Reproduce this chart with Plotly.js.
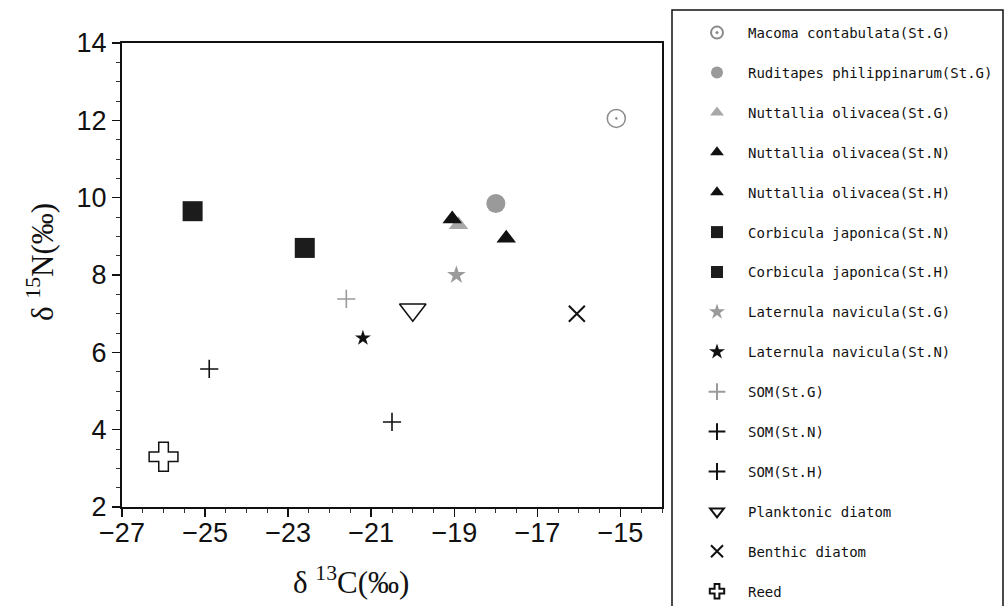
<!DOCTYPE html>
<html>
<head>
<meta charset="utf-8">
<script src="https://cdn.plot.ly/plotly-3.0.1.min.js"></script>
<style>html,body{margin:0;padding:0;background:#fff;}#chart{width:1005px;height:606px;}</style>
</head>
<body>
<div id="chart"></div>
<script>
// Series names (legend order)
var seriesNames = [
  "Macoma contabulata(St.G)",
  "Ruditapes philippinarum(St.G)",
  "Nuttallia olivacea(St.G)",
  "Nuttallia olivacea(St.N)",
  "Nuttallia olivacea(St.H)",
  "Corbicula japonica(St.N)",
  "Corbicula japonica(St.H)",
  "Laternula navicula(St.G)",
  "Laternula navicula(St.N)",
  "SOM(St.G)",
  "SOM(St.N)",
  "SOM(St.H)",
  "Planktonic diatom",
  "Benthic diatom",
  "Reed"
];
// delta 13C values (per mil)
var d13C = [-15.1, -18.0, -18.9, -19.05, -17.75, -25.3, -22.6, -18.95, -21.2, -21.6, -24.9, -20.5, -20.0, -16.05, -26.0];
// delta 15N values (per mil)
var d15N = [12.05, 9.85, 9.3, 9.45, 8.95, 9.65, 8.7, 8.0, 6.37, 7.38, 5.57, 4.2, 7.1, 7.0, 3.3];

var xTickVals = [-27, -25, -23, -21, -19, -17, -15];
var yTickVals = [2, 4, 6, 8, 10, 12, 14];
var xTitle = "\u03b4 <sup>13</sup>C(\u2030)";
var yTitle = "\u03b4 <sup>15</sup>N(\u2030)";

var styles = [
  {symbol: "circle-open-dot", size: 18, color: "#8a8a8a", lw: 1.5},
  {symbol: "circle", size: 19, color: "#9a9a9a", lw: 0},
  {symbol: "triangle-up", size: 17, color: "#a8a8a8", lw: 0},
  {symbol: "triangle-up", size: 17, color: "#111111", lw: 0},
  {symbol: "triangle-up", size: 17, color: "#111111", lw: 0},
  {symbol: "square", size: 20, color: "#1c1c1c", lw: 0},
  {symbol: "square", size: 20, color: "#1c1c1c", lw: 0},
  {symbol: "star", size: 14, color: "#9a9a9a", lw: 0},
  {symbol: "star", size: 12, color: "#111111", lw: 0},
  {symbol: "cross-thin", size: 13, color: "#9a9a9a", lw: 1.6},
  {symbol: "cross-thin", size: 13, color: "#111111", lw: 1.6},
  {symbol: "cross-thin", size: 13, color: "#111111", lw: 1.6},
  {symbol: "triangle-down-open", size: 23, color: "#111111", lw: 1.5},
  {symbol: "x-thin", size: 16, color: "#111111", lw: 2},
  {symbol: "cross", size: 24, color: "#ffffff", lw: 1.5, edge: "#111111"}
];

var traces = seriesNames.map(function(name, i) {
  var s = styles[i];
  var m = {symbol: s.symbol, size: s.size, color: s.color};
  if (s.edge) {
    m.line = {color: s.edge, width: s.lw};
  } else if (s.lw > 0) {
    m.line = {color: s.color, width: s.lw};
  } else {
    m.line = {width: 0};
  }
  return {
    type: "scatter", mode: "markers", name: name,
    x: [d13C[i]], y: [d15N[i]],
    marker: m, legendgroup: "g" + i, hoverinfo: "skip"
  };
});

var tickFont = {family: "'Liberation Sans Narrow', 'Liberation Sans', Arial, sans-serif", size: 27, color: "#111"};
var titleFont = {family: "'Liberation Serif', 'Times New Roman', serif", size: 31, color: "#111"};

var layout = {
  width: 1005, height: 606,
  margin: {l: 122, r: 343, t: 43, b: 99, autoexpand: false},
  paper_bgcolor: "#ffffff", plot_bgcolor: "#ffffff",
  showlegend: true,
  xaxis: {
    range: [-27, -14], tickmode: "array", tickvals: xTickVals,
    ticktext: xTickVals.map(function(v){return "\u2212" + Math.abs(v);}),
    showgrid: false, zeroline: false,
    showline: true, linecolor: "#111", linewidth: 2, mirror: true,
    ticks: "outside", ticklen: 8, tickwidth: 1.5, tickcolor: "#111",
    ticklabelstandoff: -7,
    minor: {dtick: 0.5, tick0: -27, ticks: "outside", ticklen: 4, tickwidth: 1, tickcolor: "#333", showgrid: false},
    tickfont: tickFont
  },
  yaxis: {
    range: [2, 14], tickmode: "array", tickvals: yTickVals,
    showgrid: false, zeroline: false,
    showline: true, linecolor: "#111", linewidth: 2, mirror: true,
    ticks: "outside", ticklen: 8, tickwidth: 1.5, tickcolor: "#111",
    minor: {dtick: 0.5, tick0: 2, ticks: "outside", ticklen: 4, tickwidth: 1, tickcolor: "#333", showgrid: false},
    tickfont: tickFont
  },
  annotations: [
    {text: xTitle, xref: "paper", yref: "paper", x: (351 - 122) / 540, y: (507 - 580) / 464,
     xanchor: "center", yanchor: "middle", showarrow: false, font: titleFont},
    {text: yTitle, xref: "paper", yref: "paper", x: (40 - 122) / 540, y: (507 - 262) / 464,
     xanchor: "center", yanchor: "middle", showarrow: false, textangle: -90, font: titleFont}
  ],
  legend: {
    x: (686 - 122) / 540, xanchor: "left",
    y: (507 - 17) / 464, yanchor: "top",
    bgcolor: "rgba(0,0,0,0)", borderwidth: 0, maxheight: 2000,
    font: {family: "'DejaVu Sans Mono', 'Liberation Mono', monospace", size: 14, color: "#111"},
    itemwidth: 52, itemsizing: "constant", tracegroupgap: 18.7,
    itemclick: false, itemdoubleclick: false
  },
  shapes: [{
    type: "rect", xref: "paper", yref: "paper",
    x0: (672 - 122) / 540, x1: (1003 - 122) / 540,
    y0: (507 - 650) / 464, y1: (507 - 10) / 464,
    line: {color: "#111", width: 1.5}, fillcolor: "rgba(0,0,0,0)", layer: "below"
  }]
};

Plotly.newPlot("chart", traces, layout, {staticPlot: true, displayModeBar: false});
</script>
</body>
</html>
